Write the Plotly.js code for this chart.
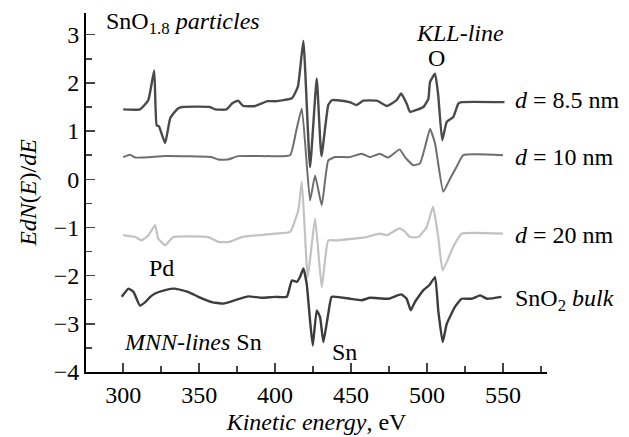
<!DOCTYPE html>
<html>
<head>
<meta charset="utf-8">
<script src="https://cdn.plot.ly/plotly-3.0.1.min.js"></script>
<style>
html,body{margin:0;padding:0;background:#fff;}
#chart{width:629px;height:437px;}
#chart text{font-family:'Liberation Serif','Times New Roman','DejaVu Serif',serif !important;}
</style>
</head>
<body>
<div id="chart"></div>
<script>
// d = 8.5 nm
const x85 = [300, 311, 316.5, 320.4, 322, 323.5, 327.6, 331, 336, 339, 357, 360.5, 368, 372, 375.6, 379, 387, 395, 400, 411, 415, 418.6, 423, 427.4, 430.5, 435, 437.3, 441, 449, 453.7, 458, 467, 473.5, 480, 483, 486.6, 488.8, 497.6, 500.9, 502, 505.3, 507.4, 510, 513, 517.3, 520.6, 522.8, 551];
const y85 = [1.45, 1.45, 1.64, 2.26, 1.12, 1.1, 0.75, 1.27, 1.47, 1.5, 1.5, 1.45, 1.45, 1.58, 1.63, 1.52, 1.52, 1.62, 1.62, 1.68, 1.92, 2.87, 0.25, 2.09, 0.48, 1.54, 1.64, 1.64, 1.6, 1.54, 1.63, 1.63, 1.52, 1.64, 1.78, 1.57, 1.4, 1.5, 1.67, 2.02, 2.19, 1.74, 0.81, 1.19, 1.29, 1.57, 1.6, 1.6];
// d = 10 nm
const x10 = [300, 304.6, 308, 327.6, 358, 362.5, 369, 375.6, 395, 409.9, 414, 417.6, 423, 426.3, 430.7, 435, 439.5, 449.3, 457, 462.5, 469, 474.5, 482, 485.5, 491, 495.4, 498.7, 502, 505.3, 510.7, 515, 519.5, 523.9, 550];
const y10 = [0.46, 0.51, 0.45, 0.48, 0.46, 0.41, 0.41, 0.48, 0.48, 0.5, 1.02, 1.47, -0.44, 0.08, -0.54, 0.39, 0.46, 0.46, 0.53, 0.46, 0.53, 0.45, 0.62, 0.46, 0.29, 0.33, 0.67, 1.05, 0.74, -0.26, 0.0, 0.26, 0.5, 0.5];
// d = 20 nm
const x20 = [300, 308, 312, 316.7, 321, 323, 327.6, 333, 356, 362.7, 370, 378, 400, 409.9, 415.3, 417.6, 421.5, 426.3, 430.7, 435, 440.6, 460, 469, 473.5, 482, 485.5, 488.8, 494.3, 499.8, 504, 507.4, 510.3, 517.3, 522.8, 550];
const y20 = [-1.16, -1.2, -1.27, -1.16, -0.95, -1.23, -1.37, -1.2, -1.2, -1.3, -1.3, -1.2, -1.13, -1.09, -0.64, -0.05, -2.03, -0.81, -2.24, -1.27, -1.27, -1.2, -1.13, -1.16, -1.02, -1.09, -1.2, -1.2, -0.99, -0.57, -1.2, -1.89, -1.4, -1.13, -1.13];
// SnO2 bulk
const xBulk = [299, 303.5, 306.8, 311, 314.5, 317.8, 321, 327.6, 334, 343, 349.5, 358.3, 366, 373.7, 382.4, 391, 400, 407.7, 411, 414.3, 416.4, 418.6, 420.8, 423, 424.8, 427.4, 429.6, 431.8, 435, 437.3, 449.3, 457, 462.5, 474.5, 483, 486.6, 489.3, 492, 497.6, 501.5, 505.3, 507.4, 510.3, 513, 518.4, 522.8, 529.4, 535, 539.5, 549];
const yBulk = [-2.44, -2.27, -2.34, -2.62, -2.55, -2.44, -2.37, -2.3, -2.27, -2.34, -2.44, -2.55, -2.58, -2.51, -2.43, -2.46, -2.44, -2.44, -2.1, -2.13, -2.03, -1.85, -2.17, -2.93, -3.45, -2.72, -2.86, -3.38, -2.79, -2.44, -2.48, -2.51, -2.46, -2.48, -2.39, -2.48, -2.72, -2.55, -2.3, -2.2, -2.03, -2.72, -3.38, -3.0, -2.65, -2.48, -2.48, -2.41, -2.48, -2.44];

const xTicks = [300, 350, 400, 450, 500, 550];
const yTicks = [-4, -3, -2, -1, 0, 1, 2, 3];

const F = "Liberation Serif";
const traces = [
  {x: x20, y: y20, mode: 'lines', line: {color: '#c2c2c2', width: 2.2, shape: 'spline', smoothing: 0.4}, name: 'd = 20 nm'},
  {x: x10, y: y10, mode: 'lines', line: {color: '#6e6e6e', width: 2, shape: 'spline', smoothing: 0.4}, name: 'd = 10 nm'},
  {x: x85, y: y85, mode: 'lines', line: {color: '#4a4a4a', width: 2.4, shape: 'spline', smoothing: 0.4}, name: 'd = 8.5 nm'},
  {x: xBulk, y: yBulk, mode: 'lines', line: {color: '#3c3c3c', width: 2.4, shape: 'spline', smoothing: 0.4}, name: 'SnO2 bulk'}
];

function ann(x, y, text, xa) {
  return {x: x, y: y, xref: 'x', yref: 'y', text: text, showarrow: false,
    xanchor: xa || 'left', yanchor: 'middle', font: {family: F, size: 24, color: '#000'}};
}

const layout = {
  width: 629, height: 437,
  margin: {l: 86, r: 82, t: 13, b: 65},
  paper_bgcolor: '#fff', plot_bgcolor: '#fff',
  showlegend: false,
  font: {family: F, size: 24, color: '#000'},
  xaxis: {
    range: [275.5, 579], tickvals: xTicks, ticks: 'inside', ticklen: 9, tickwidth: 1.5,
    showline: true, linewidth: 2, linecolor: '#000', showgrid: false, zeroline: false,
    minor: {dtick: 25, tick0: 275, ticks: 'inside', ticklen: 6, tickwidth: 1.5, showgrid: false},
    tickfont: {family: F, size: 24, color: '#000'},
    title: {text: '<i>Kinetic energy</i>, eV', font: {family: F, size: 24, color: '#000'}, standoff: 6}
  },
  yaxis: {
    range: [-4, 3.45], tickvals: yTicks, ticks: 'inside', ticklen: 9, tickwidth: 1.5,
    showline: true, linewidth: 2, linecolor: '#000', showgrid: false, zeroline: false,
    minor: {dtick: 0.5, tick0: 0, ticks: 'inside', ticklen: 6, tickwidth: 1.5, showgrid: false},
    tickfont: {family: F, size: 24, color: '#000'},
    title: {text: '<i>EdN</i>(<i>E</i>)/<i>dE</i>', font: {family: F, size: 24, color: '#000'}, standoff: 10}
  },
  annotations: [
    ann(287.5, 3.25, 'SnO<sub>1.8</sub> <i>particles</i>'),
    ann(522, 3.03, '<i>KLL-line</i>', 'center'),
    ann(506, 2.51, 'O', 'center'),
    ann(556.7, 1.64, '<i>d</i> = 8.5 nm'),
    ann(556.7, 0.46, '<i>d</i> = 10 nm'),
    ann(556.7, -1.16, '<i>d</i> = 20 nm'),
    ann(556.7, -2.51, 'SnO<sub>2</sub> <i>bulk</i>'),
    ann(445.8, -3.59, 'Sn', 'center'),
    ann(325.3, -1.85, 'Pd', 'center'),
    ann(299.3, -3.38, '<i>MNN-lines</i> Sn')
  ]
};

Plotly.newPlot('chart', traces, layout, {staticPlot: true, displayModeBar: false});
</script>
</body>
</html>
